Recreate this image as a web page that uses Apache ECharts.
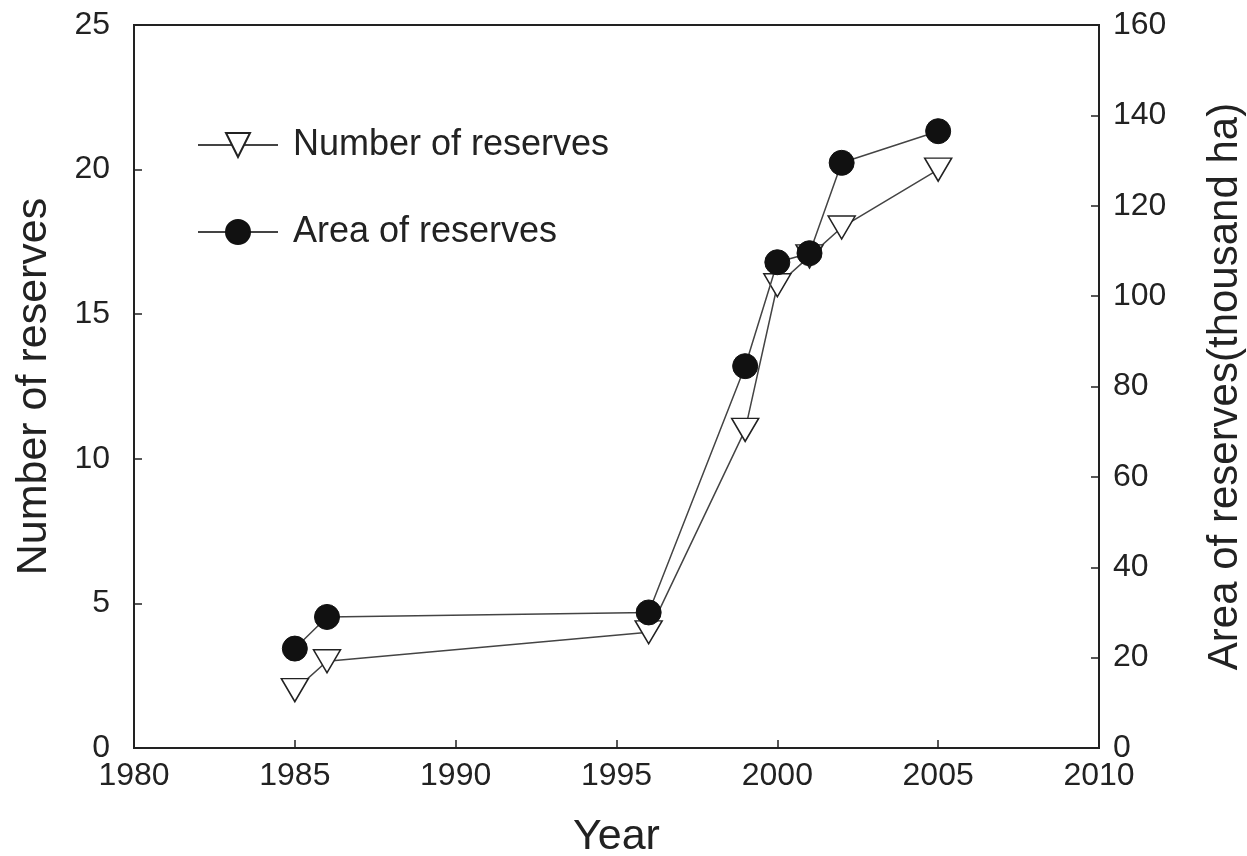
<!DOCTYPE html>
<html>
<head>
<meta charset="utf-8">
<script src="https://cdn.jsdelivr.net/npm/echarts@6/dist/echarts.min.js"></script>
<style>html,body{margin:0;padding:0;background:#fff}#c{width:1247px;height:856px}</style>
</head>
<body>
<div id="c"></div>
<script>
const years = [1985, 1986, 1996, 1999, 2000, 2001, 2002, 2005];
const numberOfReserves = [2, 3, 4, 11, 16, 17, 18, 20];
const areaOfReserves = [22, 29, 30, 84.5, 107.5, 109.5, 129.5, 136.5];
const xTicks = [1980, 1985, 1990, 1995, 2000, 2005, 2010];
const leftTicks = [0, 5, 10, 15, 20, 25];
const rightTicks = [0, 20, 40, 60, 80, 100, 120, 140, 160];

const FONT = 'Liberation Sans, Arial, sans-serif';
const downTri = 'path://M0,0 L20,0 L10,17 Z';
const chart = echarts.init(document.getElementById('c'), null, {renderer: 'canvas'});
const axisLine = {show: true, lineStyle: {color: '#222', width: 2}};
const tick = {show: true, inside: true, length: 8, lineStyle: {color: '#222', width: 1.5}};
chart.setOption({
  animation: false,
  backgroundColor: '#fff',
  grid: {left: 134, right: 148, top: 25, bottom: 108, show: true, borderColor: '#222', borderWidth: 2,
         containLabel: false, outerBoundsMode: 'none'},
  legend: {
    orient: 'vertical', left: 192, top: 122, itemWidth: 80, itemHeight: 30, itemGap: 51,
    textStyle: {fontFamily: FONT, fontSize: 36, color: '#222', padding: [0, 0, 0, 10]},
    data: ['Number of reserves', 'Area of reserves']
  },
  xAxis: {
    type: 'value', min: 1980, max: 2010, interval: 5,
    axisLine: axisLine, axisTick: tick, splitLine: {show: false},
    axisLabel: {fontFamily: FONT, fontSize: 32, color: '#222', margin: 12, formatter: v => String(v)},
    name: 'Year', nameLocation: 'middle', nameGap: 68,
    nameTextStyle: {fontFamily: FONT, fontSize: 43, color: '#222'}
  },
  yAxis: [{
    type: 'value', min: 0, max: 25, interval: 5, position: 'left',
    axisLine: axisLine, axisTick: tick, splitLine: {show: false},
    axisLabel: {fontFamily: FONT, fontSize: 32, color: '#222', margin: 24},
    name: 'Number of reserves', nameLocation: 'middle', nameGap: 78,
    nameTextStyle: {fontFamily: FONT, fontSize: 43, color: '#222'}
  }, {
    type: 'value', min: 0, max: 160, interval: 20, position: 'right',
    axisLine: axisLine, axisTick: tick, splitLine: {show: false},
    axisLabel: {fontFamily: FONT, fontSize: 32, color: '#222', margin: 14},
    name: 'Area of reserves(thousand ha)', nameLocation: 'middle', nameGap: 105, nameRotate: 90,
    nameTextStyle: {fontFamily: FONT, fontSize: 42, color: '#222'}
  }],
  series: [{
    name: 'Number of reserves', type: 'line', yAxisIndex: 0,
    data: years.map((y, i) => [y, numberOfReserves[i]]),
    symbol: downTri, symbolSize: [27, 23],
    lineStyle: {color: '#444', width: 1.5},
    itemStyle: {color: '#fff', borderColor: '#222', borderWidth: 1.5},
    z: 3
  }, {
    name: 'Area of reserves', type: 'line', yAxisIndex: 1,
    data: years.map((y, i) => [y, areaOfReserves[i]]),
    symbol: 'circle', symbolSize: 25,
    lineStyle: {color: '#444', width: 1.5},
    itemStyle: {color: '#111', borderColor: '#111', borderWidth: 1},
    z: 4
  }]
});
</script>
</body>
</html>
